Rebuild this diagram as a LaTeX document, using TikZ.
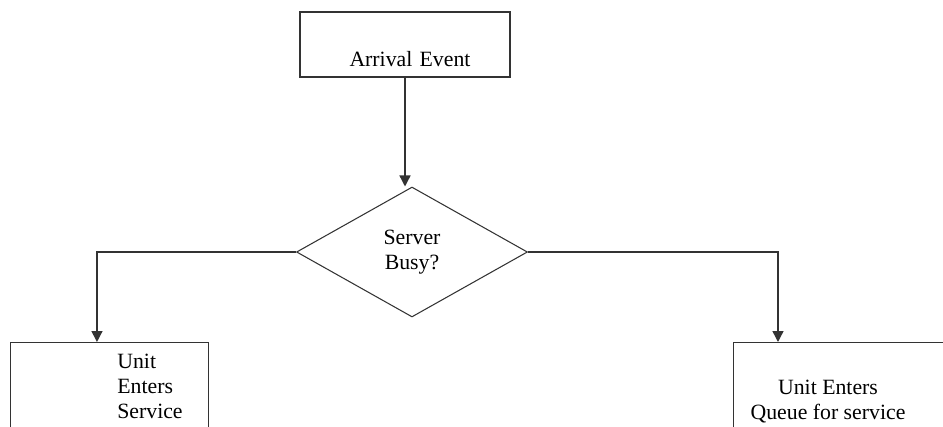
\documentclass[tikz,border=0pt]{standalone}
\usepackage{fontspec}
\setmainfont{Liberation Serif}
\usetikzlibrary{positioning}
\usetikzlibrary{shapes.geometric}
\usetikzlibrary{arrows.meta}

\begin{document}
\begin{tikzpicture}[x=0.02cm, y=-0.02cm,
    box/.style={draw=black!80, line width=0.8pt, inner sep=0pt},
    flow/.style={draw=black!80, line width=0.8pt, -{Triangle[length=0.22cm, width=0.22cm]}},
    txt/.style={font=\fontsize{12.4}{14.2}\selectfont, inner sep=0pt}]
    \useasboundingbox (0, 0) rectangle (943, 426);
    \clip (0, 0) rectangle (943, 426);

    \node[box, txt, minimum width=4.2cm, text width=4.2cm, align=center, text height=1.1cm, text depth=0.2cm] (arrival) at (405, 44.5) {\hspace*{0.2cm}Arrival Event};
    \node[box, txt, shape=diamond, aspect=1.78, minimum width=4.62cm, minimum height=2.6cm, align=center, line width=0.6pt] (busy) at (412, 252) {Server\\Busy?};

    \node[box, anchor=north west, minimum width=3.96cm, minimum height=2.4cm] (service) at (10, 342) {};
    \node[txt, align=left, anchor=north west] (servicetext) at ([shift={(2.14cm, -0.24cm)}]service.north west) {Unit\\Enters\\Service};

    \node[box, anchor=north west, minimum width=4.4cm, minimum height=2.4cm] (queue) at (733, 342) {};
    \node[txt, align=center, anchor=north] (queuetext) at (828, 380) {Unit Enters\\Queue for service};

    \draw[flow] (arrival) -- (arrival |- busy.north);
    \draw[flow] (busy.west) -| ([xshift=1.74cm]service.north west);
    \draw[flow] (busy.east) -| ([xshift=0.9cm]queue.north west);
\end{tikzpicture}
\end{document}
